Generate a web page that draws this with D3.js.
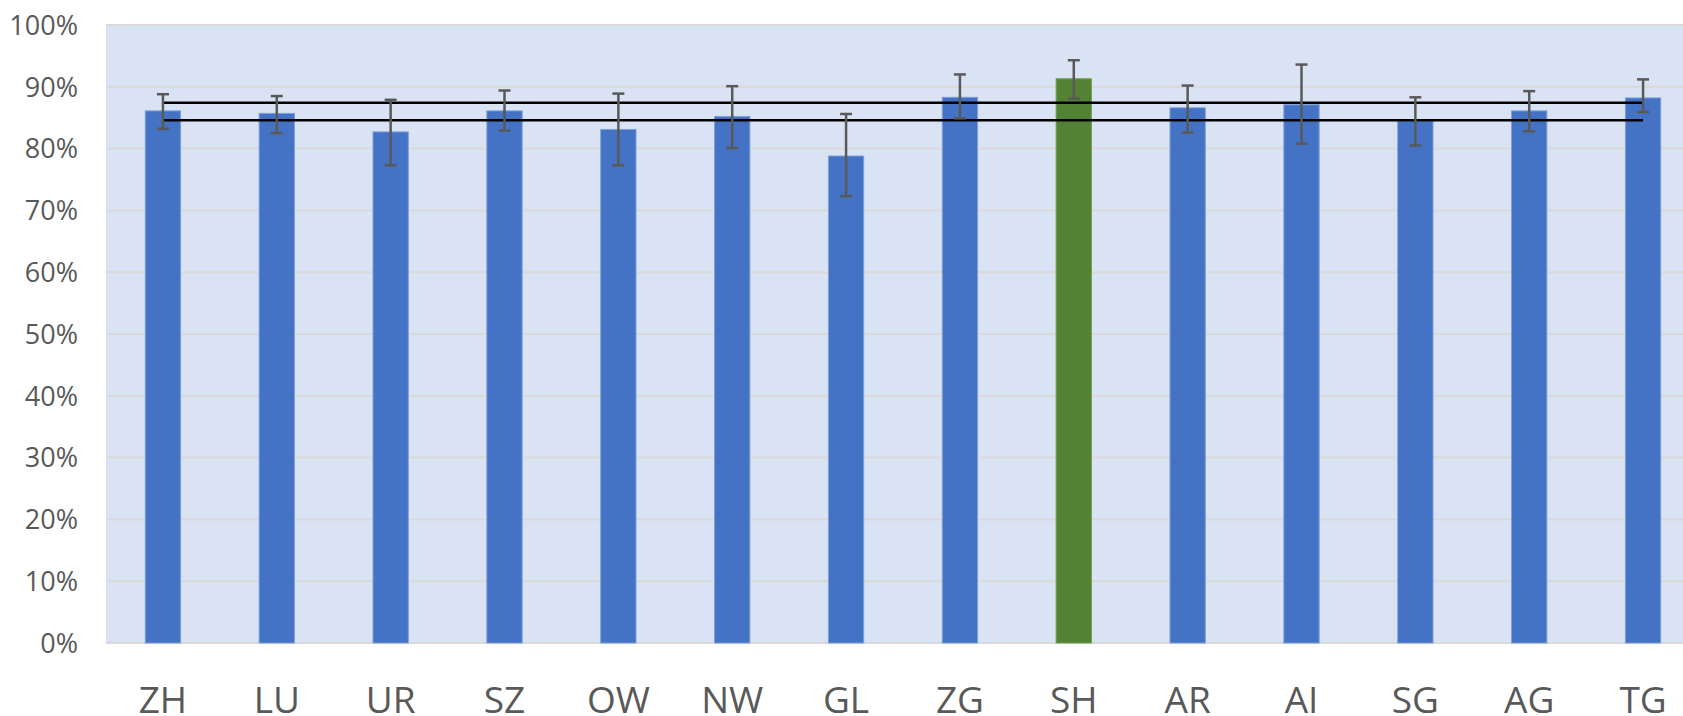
<!DOCTYPE html>
<html>
<head>
<meta charset="utf-8">
<script src="https://cdn.jsdelivr.net/npm/d3@7"></script>
<style>
  body { margin: 0; background: #fff; }
  svg { display: block; font-family: "Open Sans", sans-serif; }
</style>
</head>
<body>
<svg id="chart" width="1683" height="716"></svg>
<script>
// cantons and share values (%)
var cantons = ["ZH", "LU", "UR", "SZ", "OW", "NW", "GL", "ZG", "SH", "AR", "AI", "SG", "AG", "TG"];
var values = [86.1, 85.7, 82.7, 86.1, 83.1, 85.2, 78.8, 88.3, 91.3, 86.6, 87.1, 84.5, 86.1, 88.2];
var errHigh = [88.8, 88.5, 87.9, 89.4, 88.9, 90.1, 85.6, 92.0, 94.3, 90.2, 93.6, 88.3, 89.3, 91.2];
var errLow = [83.2, 82.5, 77.3, 82.9, 77.3, 80.1, 72.3, 84.9, 88.1, 82.6, 80.8, 80.5, 82.8, 85.9];
var refLines = [87.4, 84.6];
var highlight = "SH";
var yTicks = [0, 10, 20, 30, 40, 50, 60, 70, 80, 90, 100];

var svg = d3.select("#chart");
var plotLeft = 106, plotRight = 1700, plotTop = 25, plotBottom = 643;

var x = d3.scaleBand().domain(cantons).range([plotLeft, plotRight]).paddingInner(0.69).paddingOuter(0.345);
var y = d3.scaleLinear().domain([0, 100]).range([plotBottom, plotTop]);

// plot background
svg.append("rect")
    .attr("x", plotLeft).attr("y", plotTop)
    .attr("width", plotRight - plotLeft).attr("height", plotBottom - plotTop)
    .attr("fill", "#dae3f3");

// gridlines
svg.selectAll("line.grid")
    .data(yTicks)
    .enter()
    .append("line")
    .attr("class", "grid")
    .attr("x1", plotLeft).attr("x2", plotRight)
    .attr("y1", function (d) { return y(d); })
    .attr("y2", function (d) { return y(d); })
    .attr("stroke", "#d9d9d9")
    .attr("stroke-width", 2);

// y labels
svg.selectAll("text.ylab")
    .data(yTicks)
    .enter()
    .append("text")
    .attr("class", "ylab")
    .attr("x", 78)
    .attr("y", function (d) { return y(d); })
    .attr("dy", "0.36em")
    .attr("text-anchor", "end")
    .attr("font-size", 27)
    .attr("fill", "#595959")
    .text(function (d) { return d + "%"; });

// bars
svg.selectAll("rect.bar")
    .data(cantons)
    .enter()
    .append("rect")
    .attr("class", "bar")
    .attr("x", function (d) { return x(d); })
    .attr("width", x.bandwidth())
    .attr("y", function (d, i) { return y(values[i]); })
    .attr("height", function (d, i) { return y(0) - y(values[i]); })
    .attr("fill", function (d) { return d == highlight ? "#548235" : "#4472c4"; })
    .attr("stroke", function (d) { return d == highlight ? "#70a050" : "#7f9fd8"; })
    .attr("stroke-width", 1);

// reference lines
svg.selectAll("line.ref")
    .data(refLines)
    .enter()
    .append("line")
    .attr("class", "ref")
    .attr("x1", x(cantons[0]) + x.bandwidth() / 2)
    .attr("x2", x(cantons[cantons.length - 1]) + x.bandwidth() / 2)
    .attr("y1", function (d) { return y(d); })
    .attr("y2", function (d) { return y(d); })
    .attr("stroke", "#000")
    .attr("stroke-width", 2.5);

// error bars
var cx = function (d) { return x(d) + x.bandwidth() / 2; };
var err = svg.append("g").attr("stroke", "#595959").attr("stroke-width", 2.5);
err.selectAll("line.stem")
    .data(cantons)
    .enter()
    .append("line")
    .attr("x1", cx).attr("x2", cx)
    .attr("y1", function (d, i) { return y(errHigh[i]); })
    .attr("y2", function (d, i) { return y(errLow[i]); });
[errHigh, errLow].forEach(function (arr) {
    err.selectAll(null)
        .data(cantons)
        .enter()
        .append("line")
        .attr("x1", function (d) { return cx(d) - 6; })
        .attr("x2", function (d) { return cx(d) + 6; })
        .attr("y1", function (d, i) { return y(arr[i]); })
        .attr("y2", function (d, i) { return y(arr[i]); });
});

// x labels
svg.selectAll("text.xlab")
    .data(cantons)
    .enter()
    .append("text")
    .attr("class", "xlab")
    .attr("x", cx)
    .attr("y", 713)
    .attr("text-anchor", "middle")
    .attr("font-size", 37)
    .attr("fill", "#595959")
    .text(function (d) { return d; });
</script>
</body>
</html>
